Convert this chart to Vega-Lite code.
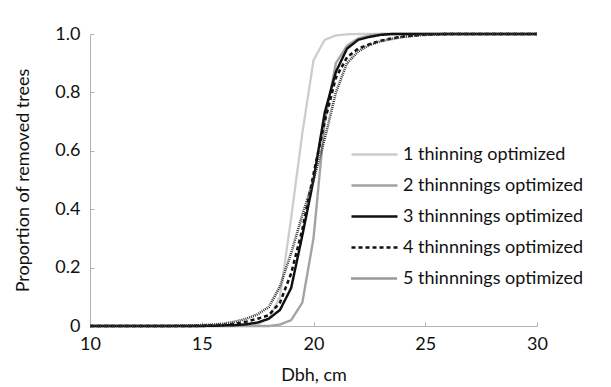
{
  "$schema": "https://vega.github.io/schema/vega-lite/v6.json",
  "width": 447,
  "height": 292,
  "autosize": {"type": "none"},
  "padding": {"left": 90, "top": 34, "right": 74, "bottom": 61},
  "background": "white",
  "config": {
    "view": {"stroke": null},
    "font": "Lato",
    "axis": {
      "grid": false,
      "domainColor": "#b3b3b3",
      "tickColor": "#b3b3b3",
      "labelFont": "Lato",
      "titleFont": "Lato",
      "labelFontSize": 18,
      "titleFontSize": 18,
      "titleFontWeight": "normal",
      "labelColor": "#111111",
      "titleColor": "#111111",
      "labelFlush": false
    },
    "legend": {
      "orient": "none",
      "legendX": 263,
      "legendY": 99,
      "labelFont": "Lato",
      "labelFontSize": 18,
      "labelColor": "#111111",
      "symbolType": "M-1.15,0L1.15,0",
      "symbolSize": 1600,
      "labelOffset": 7,
      "rowPadding": -7.5,
      "labelLimit": 400,
      "title": null
    }
  },
  "data": {
    "values": [
      {"s": "1 thinning optimized", "d": 10, "p": 0},
      {"s": "1 thinning optimized", "d": 16.5, "p": 0},
      {"s": "1 thinning optimized", "d": 17, "p": 0.002},
      {"s": "1 thinning optimized", "d": 17.5, "p": 0.006},
      {"s": "1 thinning optimized", "d": 18, "p": 0.025},
      {"s": "1 thinning optimized", "d": 18.5, "p": 0.1},
      {"s": "1 thinning optimized", "d": 19, "p": 0.37},
      {"s": "1 thinning optimized", "d": 19.5, "p": 0.66},
      {"s": "1 thinning optimized", "d": 20, "p": 0.91},
      {"s": "1 thinning optimized", "d": 20.5, "p": 0.98},
      {"s": "1 thinning optimized", "d": 21, "p": 0.995},
      {"s": "1 thinning optimized", "d": 21.5, "p": 0.999},
      {"s": "1 thinning optimized", "d": 22, "p": 1},
      {"s": "1 thinning optimized", "d": 30, "p": 1},
      {"s": "2 thinnnings optimized", "d": 10, "p": 0},
      {"s": "2 thinnnings optimized", "d": 18, "p": 0},
      {"s": "2 thinnnings optimized", "d": 18.5, "p": 0.005},
      {"s": "2 thinnnings optimized", "d": 19, "p": 0.02},
      {"s": "2 thinnnings optimized", "d": 19.5, "p": 0.08},
      {"s": "2 thinnnings optimized", "d": 20, "p": 0.3},
      {"s": "2 thinnnings optimized", "d": 20.5, "p": 0.7},
      {"s": "2 thinnnings optimized", "d": 21, "p": 0.9},
      {"s": "2 thinnnings optimized", "d": 21.5, "p": 0.96},
      {"s": "2 thinnnings optimized", "d": 22, "p": 0.985},
      {"s": "2 thinnnings optimized", "d": 22.5, "p": 0.995},
      {"s": "2 thinnnings optimized", "d": 23, "p": 1},
      {"s": "2 thinnnings optimized", "d": 30, "p": 1},
      {"s": "3 thinnnings optimized", "d": 10, "p": 0},
      {"s": "3 thinnnings optimized", "d": 15, "p": 0},
      {"s": "3 thinnnings optimized", "d": 15.5, "p": 0.001},
      {"s": "3 thinnnings optimized", "d": 16, "p": 0.002},
      {"s": "3 thinnnings optimized", "d": 16.5, "p": 0.003},
      {"s": "3 thinnnings optimized", "d": 17, "p": 0.006},
      {"s": "3 thinnnings optimized", "d": 17.5, "p": 0.012},
      {"s": "3 thinnnings optimized", "d": 18, "p": 0.025},
      {"s": "3 thinnnings optimized", "d": 18.5, "p": 0.055},
      {"s": "3 thinnnings optimized", "d": 19, "p": 0.13},
      {"s": "3 thinnnings optimized", "d": 19.5, "p": 0.31},
      {"s": "3 thinnnings optimized", "d": 20, "p": 0.5},
      {"s": "3 thinnnings optimized", "d": 20.5, "p": 0.73},
      {"s": "3 thinnnings optimized", "d": 21, "p": 0.87},
      {"s": "3 thinnnings optimized", "d": 21.5, "p": 0.95},
      {"s": "3 thinnnings optimized", "d": 22, "p": 0.98},
      {"s": "3 thinnnings optimized", "d": 22.5, "p": 0.99},
      {"s": "3 thinnnings optimized", "d": 23, "p": 0.997},
      {"s": "3 thinnnings optimized", "d": 23.5, "p": 1},
      {"s": "3 thinnnings optimized", "d": 30, "p": 1},
      {"s": "4 thinnnings optimized", "d": 10, "p": 0},
      {"s": "4 thinnnings optimized", "d": 14.5, "p": 0},
      {"s": "4 thinnnings optimized", "d": 15, "p": 0.001},
      {"s": "4 thinnnings optimized", "d": 15.5, "p": 0.002},
      {"s": "4 thinnnings optimized", "d": 16, "p": 0.004},
      {"s": "4 thinnnings optimized", "d": 16.5, "p": 0.008},
      {"s": "4 thinnnings optimized", "d": 17, "p": 0.015},
      {"s": "4 thinnnings optimized", "d": 17.5, "p": 0.025},
      {"s": "4 thinnnings optimized", "d": 18, "p": 0.037},
      {"s": "4 thinnnings optimized", "d": 18.5, "p": 0.08},
      {"s": "4 thinnnings optimized", "d": 19, "p": 0.18},
      {"s": "4 thinnnings optimized", "d": 19.5, "p": 0.33},
      {"s": "4 thinnnings optimized", "d": 20, "p": 0.52},
      {"s": "4 thinnnings optimized", "d": 20.5, "p": 0.7},
      {"s": "4 thinnnings optimized", "d": 21, "p": 0.85},
      {"s": "4 thinnnings optimized", "d": 21.5, "p": 0.92},
      {"s": "4 thinnnings optimized", "d": 22, "p": 0.95},
      {"s": "4 thinnnings optimized", "d": 22.5, "p": 0.965},
      {"s": "4 thinnnings optimized", "d": 23, "p": 0.977},
      {"s": "4 thinnnings optimized", "d": 23.5, "p": 0.985},
      {"s": "4 thinnnings optimized", "d": 24, "p": 0.991},
      {"s": "4 thinnnings optimized", "d": 24.5, "p": 0.995},
      {"s": "4 thinnnings optimized", "d": 25, "p": 0.998},
      {"s": "4 thinnnings optimized", "d": 26, "p": 1},
      {"s": "4 thinnnings optimized", "d": 30, "p": 1},
      {"s": "5 thinnnings optimized", "d": 10, "p": 0},
      {"s": "5 thinnnings optimized", "d": 13.5, "p": 0},
      {"s": "5 thinnnings optimized", "d": 14, "p": 0.001},
      {"s": "5 thinnnings optimized", "d": 14.5, "p": 0.002},
      {"s": "5 thinnnings optimized", "d": 15, "p": 0.003},
      {"s": "5 thinnnings optimized", "d": 15.5, "p": 0.005},
      {"s": "5 thinnnings optimized", "d": 16, "p": 0.008},
      {"s": "5 thinnnings optimized", "d": 16.5, "p": 0.015},
      {"s": "5 thinnnings optimized", "d": 17, "p": 0.025},
      {"s": "5 thinnnings optimized", "d": 17.5, "p": 0.04},
      {"s": "5 thinnnings optimized", "d": 18, "p": 0.065},
      {"s": "5 thinnnings optimized", "d": 18.5, "p": 0.135},
      {"s": "5 thinnnings optimized", "d": 19, "p": 0.25},
      {"s": "5 thinnnings optimized", "d": 19.5, "p": 0.38},
      {"s": "5 thinnnings optimized", "d": 20, "p": 0.5},
      {"s": "5 thinnnings optimized", "d": 20.5, "p": 0.64},
      {"s": "5 thinnnings optimized", "d": 21, "p": 0.8},
      {"s": "5 thinnnings optimized", "d": 21.5, "p": 0.9},
      {"s": "5 thinnnings optimized", "d": 22, "p": 0.94},
      {"s": "5 thinnnings optimized", "d": 22.5, "p": 0.962},
      {"s": "5 thinnnings optimized", "d": 23, "p": 0.975},
      {"s": "5 thinnnings optimized", "d": 23.5, "p": 0.983},
      {"s": "5 thinnnings optimized", "d": 24, "p": 0.99},
      {"s": "5 thinnnings optimized", "d": 24.5, "p": 0.994},
      {"s": "5 thinnnings optimized", "d": 25, "p": 0.997},
      {"s": "5 thinnnings optimized", "d": 25.5, "p": 0.999},
      {"s": "5 thinnnings optimized", "d": 26, "p": 1},
      {"s": "5 thinnnings optimized", "d": 30, "p": 1}
    ]
  },
  "mark": {"type": "line", "strokeCap": "butt", "strokeJoin": "round"},
  "encoding": {
    "x": {
      "field": "d", "type": "quantitative",
      "scale": {"domain": [10, 30], "nice": false, "zero": false},
      "axis": {"values": [10, 15, 20, 25, 30], "tickSize": -4, "labelPadding": 13, "title": "Dbh, cm", "titlePadding": 13}
    },
    "y": {
      "field": "p", "type": "quantitative",
      "scale": {"domain": [0, 1], "nice": false},
      "axis": {"values": [0, 0.2, 0.4, 0.6, 0.8, 1], "tickSize": -4, "labelPadding": 14, "labelExpr": "datum.value == 0 ? '0' : format(datum.value, '.1f')", "title": "Proportion of removed trees", "titlePadding": 22}
    },
    "color": {
      "field": "s", "type": "nominal", "title": null,
      "scale": {"range": ["#cdcdcd", "#a3a3a3", "#111111", "#111111", "#333333"]}
    },
    "strokeDash": {
      "field": "s", "type": "nominal", "title": null,
      "scale": {"range": [[1, 0], [1, 0], [1, 0], [4, 3], [1, 1]]}
    },
    "strokeWidth": {
      "field": "s", "type": "nominal", "title": null,
      "scale": {"range": [2.3, 2.6, 1.3, 1.1, 0.9]}
    }
  }
}
